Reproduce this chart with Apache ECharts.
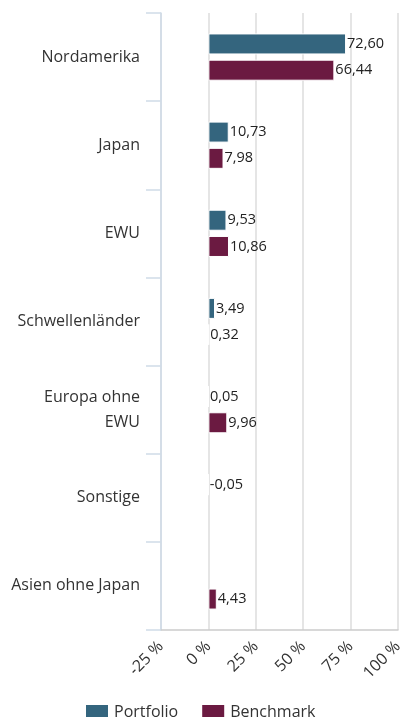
<!DOCTYPE html>
<html>
<head>
<meta charset="utf-8">
<script src="https://cdn.jsdelivr.net/npm/echarts@6/dist/echarts.min.js"></script>
<style>
  html, body { margin: 0; padding: 0; background: #fff; }
  #chart { width: 401px; height: 717px; }
</style>
</head>
<body>
<div id="chart"></div>
<script>
// Kategorien und Werte (in %)
const categories = ['Nordamerika', 'Japan', 'EWU', 'Schwellenländer', 'Europa ohne\nEWU', 'Sonstige', 'Asien ohne Japan'];
const portfolio = [72.60, 10.73, 9.53, 3.49, 0.05, -0.05, null];
const benchmark = [66.44, 7.98, 10.86, 0.32, 9.96, null, 4.43];

const fmt = p => p.value == null ? '' : p.value.toFixed(2).replace('.', ',');

let mychart = echarts.init(document.getElementById('chart'));
mychart.setOption({
  animation: false,
  textStyle: { fontFamily: 'Open Sans' },
  legend: {
    data: ['Portfolio', 'Benchmark'],
    bottom: -9,
    left: 79,
    itemWidth: 24,
    itemHeight: 16,
    itemGap: 22,
    icon: 'rect',
    textStyle: { fontSize: 16, color: '#333' }
  },
  grid: { left: 161, right: 3, top: 13, bottom: 87, outerBoundsMode: 'none', containLabel: false },
  xAxis: {
    type: 'value',
    min: -25,
    max: 100,
    interval: 25,
    axisLine: { show: true, lineStyle: { color: '#ccc', width: 1.5 } },
    axisTick: { show: false },
    splitLine: { show: true, lineStyle: { color: '#ddd', width: 1.5 } },
    axisLabel: {
      rotate: 45,
      fontSize: 16,
      color: '#333',
      margin: 14,
      formatter: v => v + ' %'
    }
  },
  yAxis: {
    type: 'category',
    inverse: true,
    data: categories,
    axisLine: { show: true, onZero: false, lineStyle: { color: '#cfdbe8', width: 1.5 } },
    axisTick: { show: true, length: 15, lineStyle: { color: '#cfdbe8', width: 1.5 } },
    axisLabel: { fontSize: 16, color: '#333', margin: 21, lineHeight: 25 }
  },
  series: [
    {
      name: 'Portfolio',
      type: 'bar',
      data: portfolio,
      barWidth: 21,
      barGap: '25%',
      itemStyle: { color: '#34657e', borderColor: '#fff', borderWidth: 1 },
      label: { show: true, position: 'right', distance: 1, fontSize: 14.5, color: '#222', formatter: fmt }
    },
    {
      name: 'Benchmark',
      type: 'bar',
      data: benchmark,
      barWidth: 21,
      barGap: '25%',
      itemStyle: { color: '#6b1a41', borderColor: '#fff', borderWidth: 1 },
      label: { show: true, position: 'right', distance: 1, fontSize: 14.5, color: '#222', formatter: fmt }
    }
  ]
});
</script>
</body>
</html>
